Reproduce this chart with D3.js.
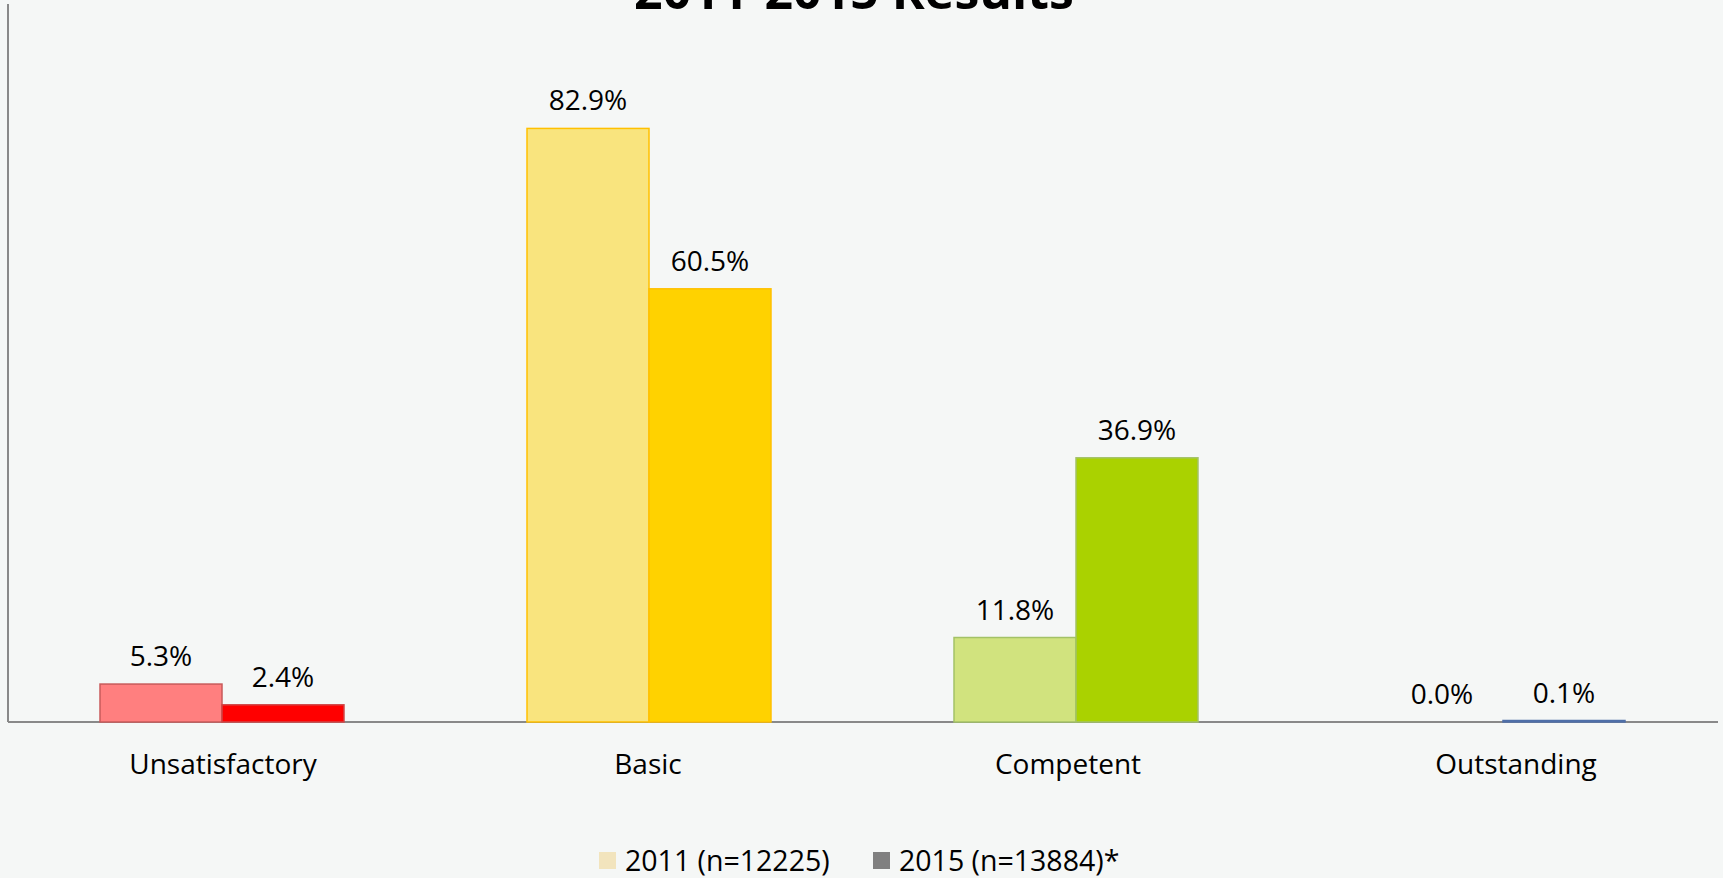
<!DOCTYPE html>
<html>
<head>
<meta charset="utf-8">
<script src="https://cdn.jsdelivr.net/npm/d3@7"></script>
<style>
  html, body { margin: 0; padding: 0; background: #F5F7F6; }
  svg { display: block; }
  text { font-family: "Open Sans", "Noto Sans", sans-serif; fill: #000; }
</style>
</head>
<body>
<svg id="chart" width="1723" height="878"></svg>
<script>
// Rating categories and the share of teachers in each, per survey year
const categories = ["Unsatisfactory", "Basic", "Competent", "Outstanding"];
const seriesNames = ["2011 (n=12225)", "2015 (n=13884)*"];
const values2011 = [5.3, 82.9, 11.8, 0.0];
const values2015 = [2.4, 60.5, 36.9, 0.1];
const titleText = "2011-2015 Results";

// Per-category fills: lighter tone for 2011, full tone for 2015
const fills2011 = ["#FF7F7F", "#F9E47E", "#D1E37E", "#9DB3D6"];
const fills2015 = ["#FF0000", "#FFD200", "#AAD200", "#4F6FA8"];
const strokes2011 = ["#C85A5A", "#FFC000", "#A3C266", "#4F6FA8"];
const strokes2015 = ["#D04545", "#FFC000", "#A3C266", "#4F6FA8"];
const legendColors = ["#F2E4BD", "#808080"];

const svg = d3.select("#chart");
const plot = { left: 8.5, right: 1716.5, top: 6, bottom: 722 };
const fontSize = "28px";

const x0 = d3.scaleBand().domain(categories).range([plot.left, plot.right]).padding(0);
const x1 = d3.scaleBand().domain(seriesNames)
  .range([x0.bandwidth() * 0.2143, x0.bandwidth() * (1 - 0.2143)]).padding(0);
const y = d3.scaleLinear().domain([0, 100]).range([plot.bottom, plot.top]);

const rows = categories.map((c, i) => ({
  cat: c, i,
  vals: [
    { s: seriesNames[0], v: values2011[i], fill: fills2011[i], stroke: strokes2011[i] },
    { s: seriesNames[1], v: values2015[i], fill: fills2015[i], stroke: strokes2015[i] }
  ]
}));

// Axes (drawn first so the bars sit on top of the baseline)
const labelNudge = { Unsatisfactory: 1, Basic: -1, Competent: -8, Outstanding: 13 };
const xAxis = svg.append("g")
  .attr("transform", `translate(0,${plot.bottom})`)
  .call(d3.axisBottom(x0).tickSize(0).tickSizeOuter(0));
xAxis.select(".domain").attr("stroke", "#898989").attr("stroke-width", 2)
  .attr("d", `M${plot.left - 0.5},0H${plot.right + 1.5}`);
xAxis.selectAll(".tick text")
  .attr("x", d => labelNudge[d] || 0)
  .attr("y", 52).attr("dy", 0)
  .style("font-size", fontSize)
  .style("font-family", "'Open Sans', sans-serif")
  .attr("fill", "#000");

const yAxis = svg.append("g")
  .attr("transform", `translate(${plot.left - 0.5},0)`)
  .call(d3.axisLeft(y).ticks(0).tickSize(0).tickSizeOuter(0));
yAxis.select(".domain").attr("stroke", "#898989").attr("stroke-width", 2)
  .attr("d", `M0,${plot.top - 2}V${plot.bottom}`);
yAxis.selectAll(".tick").remove();

// Bars
const groups = svg.append("g").selectAll("g").data(rows).join("g")
  .attr("transform", d => `translate(${x0(d.cat)},0)`);

groups.selectAll("rect").data(d => d.vals.filter(e => e.v > 0)).join("rect")
  .attr("x", d => x1(d.s))
  .attr("y", d => Math.min(y(d.v), y(0) - 1.5))
  .attr("width", x1.bandwidth())
  .attr("height", d => Math.max(1.5, y(0) - y(d.v)))
  .attr("fill", d => d.fill)
  .attr("stroke", d => d.stroke)
  .attr("stroke-width", 1.5);

// Value labels
groups.selectAll("text.val").data(d => d.vals).join("text")
  .attr("class", "val")
  .attr("x", d => x1(d.s) + x1.bandwidth() / 2)
  .attr("y", d => y(d.v) - 18)
  .attr("text-anchor", "middle")
  .style("font-size", fontSize)
  .text(d => d.v.toFixed(1) + "%");

// Title (partly above the top edge)
svg.append("text")
  .attr("x", 854).attr("y", 9)
  .attr("text-anchor", "middle")
  .style("font-size", "50px").style("font-weight", "bold")
  .text(titleText);

// Legend
const legendX = [599, 873];
const legend = svg.append("g").selectAll("g").data(seriesNames).join("g")
  .attr("transform", (d, i) => `translate(${legendX[i]},852)`);
legend.append("rect").attr("width", 17).attr("height", 17)
  .attr("fill", (d, i) => legendColors[i]);
legend.append("text").attr("x", 26).attr("y", 19)
  .style("font-size", "28.5px")
  .text(d => d);
</script>
</body>
</html>
